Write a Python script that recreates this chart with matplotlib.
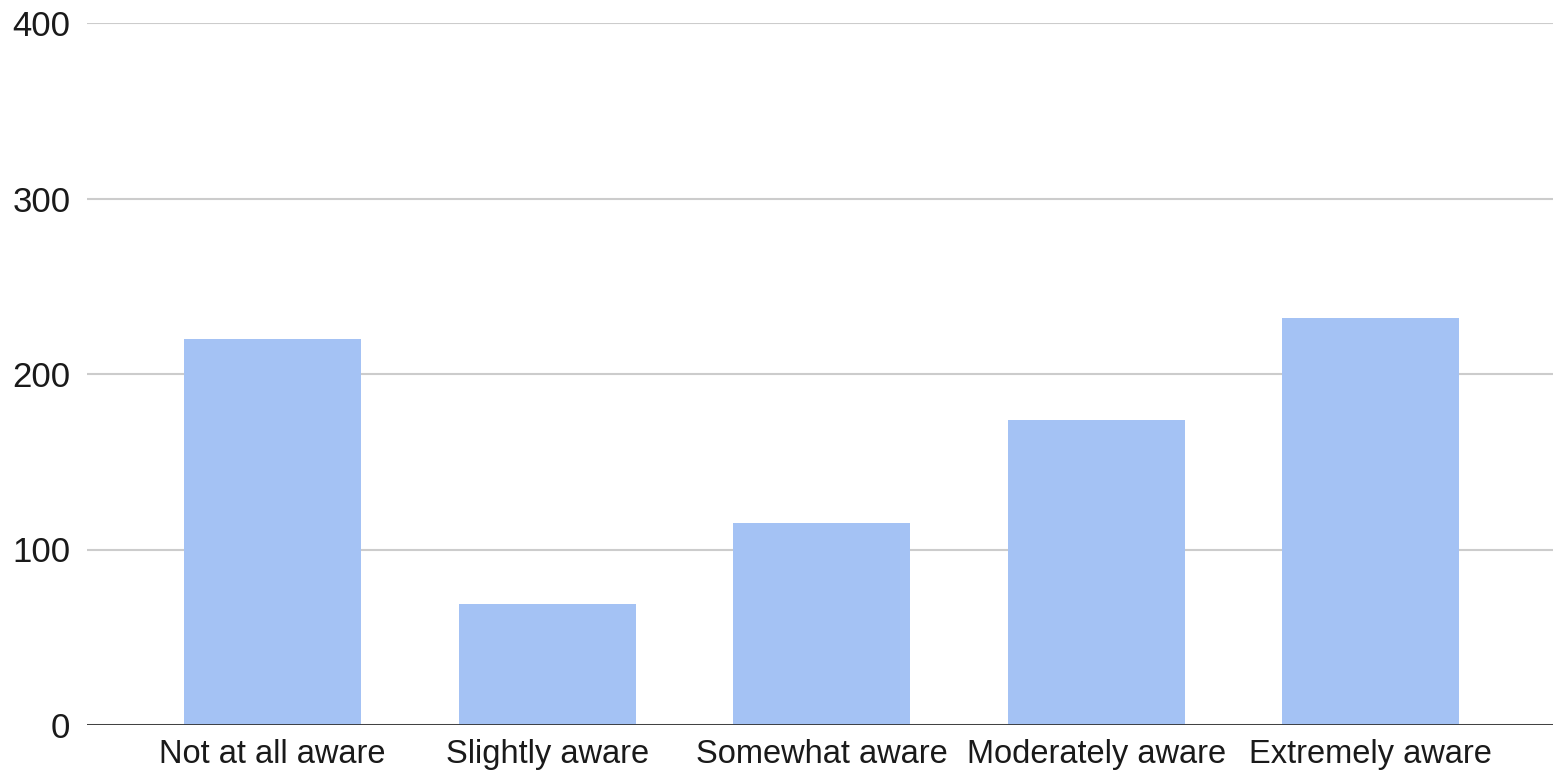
import matplotlib.pyplot as plt

categories = ['Not at all aware', 'Slightly aware', 'Somewhat aware', 'Moderately aware', 'Extremely aware']
counts = [220, 69, 115, 174, 232]
yticks = [0, 100, 200, 300, 400]

plt.rcParams['font.family'] = ['Liberation Sans', 'DejaVu Sans']

fig = plt.figure(figsize=(15.53, 7.74), dpi=100)
ax = fig.add_axes([87 / 1553, 1 - 725 / 774, 1 - 87 / 1553, (725 - 23) / 774])

x = list(range(len(categories)))
ax.bar(x, counts, width=0.645, color='#a4c2f4', zorder=2)

ax.set_xlim(-0.6755, 4.663)
ax.set_ylim(0, 400)
ax.set_yticks(yticks)
ax.set_xticks(x)
ax.set_xticklabels(categories)

ax.grid(axis='y', color='#cccccc', linewidth=1.5, zorder=0)
ax.axhline(0, color='#333333', linewidth=2, zorder=3)

for s in ax.spines.values():
    s.set_visible(False)
ax.tick_params(axis='both', length=0, colors='#1a1a1a')
ax.tick_params(axis='y', pad=12, labelsize=25)
ax.tick_params(axis='x', pad=10, labelsize=23.5)

fig.savefig('out.png', dpi=100)
